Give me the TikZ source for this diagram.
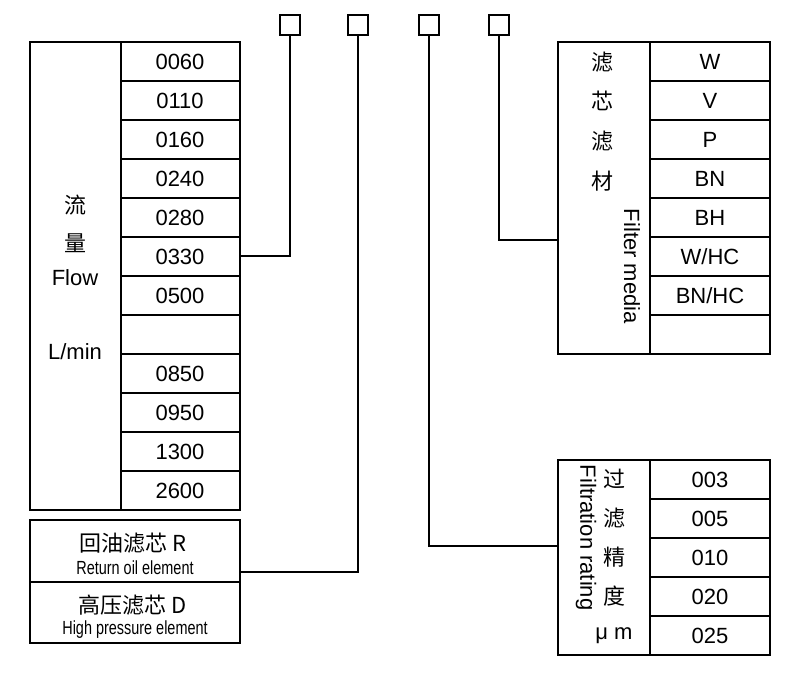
\documentclass[tikz,border=0pt]{standalone}
\usepackage{fontspec}
\setmainfont{Liberation Sans}
\newfontfamily\cjk{Noto Sans CJK SC}
\begin{document}
\begin{tikzpicture}[x=1pt,y=-1pt,line width=1.3pt,
  cell/.style={font=\fontsize{22}{22}\selectfont},
  lbl/.style={font=\cjk\fontsize{22}{22}\selectfont},
  sq/.style={draw,minimum size=20pt,inner sep=0pt}]
\useasboundingbox (0,0) rectangle (800,673);
% left table
\draw (30,42) rectangle (240,510);
\foreach \t [count=\i] in {0060,0110,0160,0240,0280,0330,0500,,0850,0950,1300,2600}{
  \draw (121,{42+(\i-1)*39}) rectangle (240,{42+\i*39});
  \node[cell] (L\i) at (180,{42+(\i-0.5)*39}) {\t};}
\node[lbl] (l1) at (75,205) {流};
\node[lbl] (l2) at (75,243) {量};
\node[cell] (l3) at (75,278) {Flow};
\node[cell] (l4) at (75,352) {L/min};
% bottom boxes
\draw (30,520) rectangle (240,582) (30,582) -- (240,582) -- (240,643) -- (30,643) -- cycle;
\node[lbl] (r1) at (133,543) {回油滤芯 R};
\node[font=\fontsize{19}{19}\selectfont,xscale=0.76] (r2) at (135,568) {Return oil element};
\node[lbl] (h1) at (133,605) {高压滤芯 D};
\node[font=\fontsize{19}{19}\selectfont,xscale=0.76] (h2) at (135,630) {High pressure element};
% squares
\node[sq] (s1) at (290,25) {};
\node[sq] (s2) at (358,25) {};
\node[sq] (s3) at (429,25) {};
\node[sq] (s4) at (499,25) {};
% right top table
\draw (558,42) rectangle (770,354);
\foreach \t [count=\i] in {W,V,P,BN,BH,W/HC,BN/HC,}{
  \draw (650,{42+(\i-1)*39}) rectangle (770,{42+\i*39});
  \node[cell] (M\i) at (710,{42+(\i-0.5)*39}) {\t};}
\foreach \c/\y [count=\i] in {滤/62,芯/101,滤/141,材/181}{\node[lbl] (m\i) at (602,\y) {\c};}
\node[cell,rotate=-90,anchor=west] (fm) at (632,205) {Filter media};
% right bottom table
\draw (558,460) rectangle (770,655);
\foreach \t [count=\i] in {003,005,010,020,025}{
  \draw (650,{460+(\i-1)*39}) rectangle (770,{460+\i*39});
  \node[cell] (F\i) at (710,{460+(\i-0.5)*39}) {\t};}
\foreach \c/\y [count=\i] in {过/479,滤/518,精/557,度/596}{\node[lbl] (f\i) at (614,\y) {\c};}
\node[cell] (um) at (614,636) {μ m};
\node[cell,rotate=-90,anchor=west] (fr) at (586,461) {Filtration rating};
% connectors
\draw (s1.south) |- (240,256);
\draw (s2.south) |- (240,572);
\draw (s3.south) |- (558,546);
\draw (s4.south) |- (558,240);
\end{tikzpicture}
\end{document}
